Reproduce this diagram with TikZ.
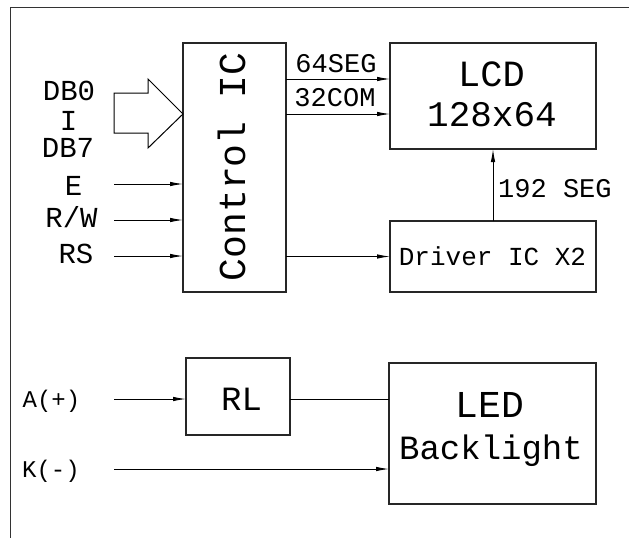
\documentclass[tikz,border=0pt]{standalone}
\usepackage{fontspec}
\setmainfont{Liberation Mono}
\usetikzlibrary{arrows.meta}
\newcommand{\fsz}[1]{\fontsize{#1}{#1}\selectfont}
\begin{document}
\begin{tikzpicture}[x=1pt,y=-1pt,
  box/.style={draw=black!85, line width=1.1pt, inner sep=0pt, outer sep=0pt, anchor=north west},
  wire/.style={draw=black, line width=0.9pt},
  arr/.style={wire, -{Latex[length=13pt,width=4.5pt]}},
  lbl/.style={inner sep=0pt, anchor=base, text=black},
  frame/.style={draw=black!80, line width=1pt},
  bigarrow/.style={draw=black, line width=1pt}
]
\useasboundingbox (0,0) rectangle (629,538);
\fill[white] (0,0) rectangle (629,538);
% frame
\coordinate (fTR) at (629,7);
\coordinate (fTL) at (10,7);
\coordinate (fBL) at (10,538);
\draw[frame] (fTR) -- (fTL) -- (fBL);

% boxes
\node[box, minimum width=103pt, minimum height=249pt] (ctrl) at (183,43) {};
\node[box, minimum width=206pt, minimum height=106pt] (lcd) at (390,43) {};
\node[box, minimum width=206pt, minimum height=71pt] (drv) at (390,221) {};
\node[box, minimum width=104pt, minimum height=77pt] (rl) at (186,358) {};
\node[box, minimum width=207pt, minimum height=141pt] (led) at (389,363) {};

% big data-bus arrow
\draw[bigarrow] (114,93) -- (148,93) -- (148,79) -- (183,114) -- (148,148) -- (148,133) -- (114,133) -- cycle;

% control inputs
\coordinate (inE) at (114,184);
\coordinate (inRW) at (114,220);
\coordinate (inRS) at (114,256);
\draw[arr] (inE) -- (inE -| ctrl.west);
\draw[arr] (inRW) -- (inRW -| ctrl.west);
\draw[arr] (inRS) -- (inRS -| ctrl.west);

% control IC outputs
\coordinate (ySeg) at (0,79);
\coordinate (yCom) at (0,114);
\draw[arr] (ctrl.east |- ySeg) -- (lcd.west |- ySeg);
\draw[arr] (ctrl.east |- yCom) -- (lcd.west |- yCom);
\draw[arr] (ctrl.east |- drv.west) -- (drv.west);
\draw[arr] (drv.north) -- (lcd.south);

% backlight
\coordinate (inA) at (114,399);
\coordinate (inK) at (114,469);
\draw[arr] (inA) -- (inA -| rl.west);
\draw[wire] (rl.east |- inA) -- (led.west |- inA);
\draw[arr] (inK) -- (inK -| led.west);

% labels
\node[lbl, font=\fsz{29}] (tDB0) at (69,100) {DB0};
\node[lbl, font=\fsz{29}] (tI) at (68.5,130) {I};
\node[lbl, font=\fsz{29}] (tDB7) at (68,157) {DB7};
\node[lbl, font=\fsz{29}] (tE) at (73.5,195) {E};
\node[lbl, font=\fsz{29}] (tRW) at (71.5,227) {R/W};
\node[lbl, font=\fsz{29}] (tRS) at (76,263) {RS};
\node[lbl, font=\fsz{38}, rotate=90] (tCtrl) at (245,167) {Control IC};
\node[lbl, font=\fsz{27}] (t64) at (336,72) {64SEG};
\node[lbl, font=\fsz{27}] (t32) at (335,106) {32COM};
\node[lbl, font=\fsz{37}] (tLCD) at (491.5,86) {LCD};
\node[lbl, font=\fsz{36}] (tRes) at (492,126) {128x64};
\node[lbl, font=\fsz{27}, anchor=base west] (t192) at (498,197) {192 SEG};
\node[lbl, font=\fsz{26}] (tDrv) at (492.5,265) {Driver IC X2};
\node[lbl, font=\fsz{24}] (tA) at (51.5,407) {A(+)};
\node[lbl, font=\fsz{24}] (tK) at (51,477) {K(-)};
\node[lbl, font=\fsz{34}] (tRL) at (241.5,410) {RL};
\node[lbl, font=\fsz{38}] (tLED) at (490,417) {LED};
\node[lbl, font=\fsz{34}] (tBL) at (491,459) {Backlight};
\end{tikzpicture}
\end{document}
